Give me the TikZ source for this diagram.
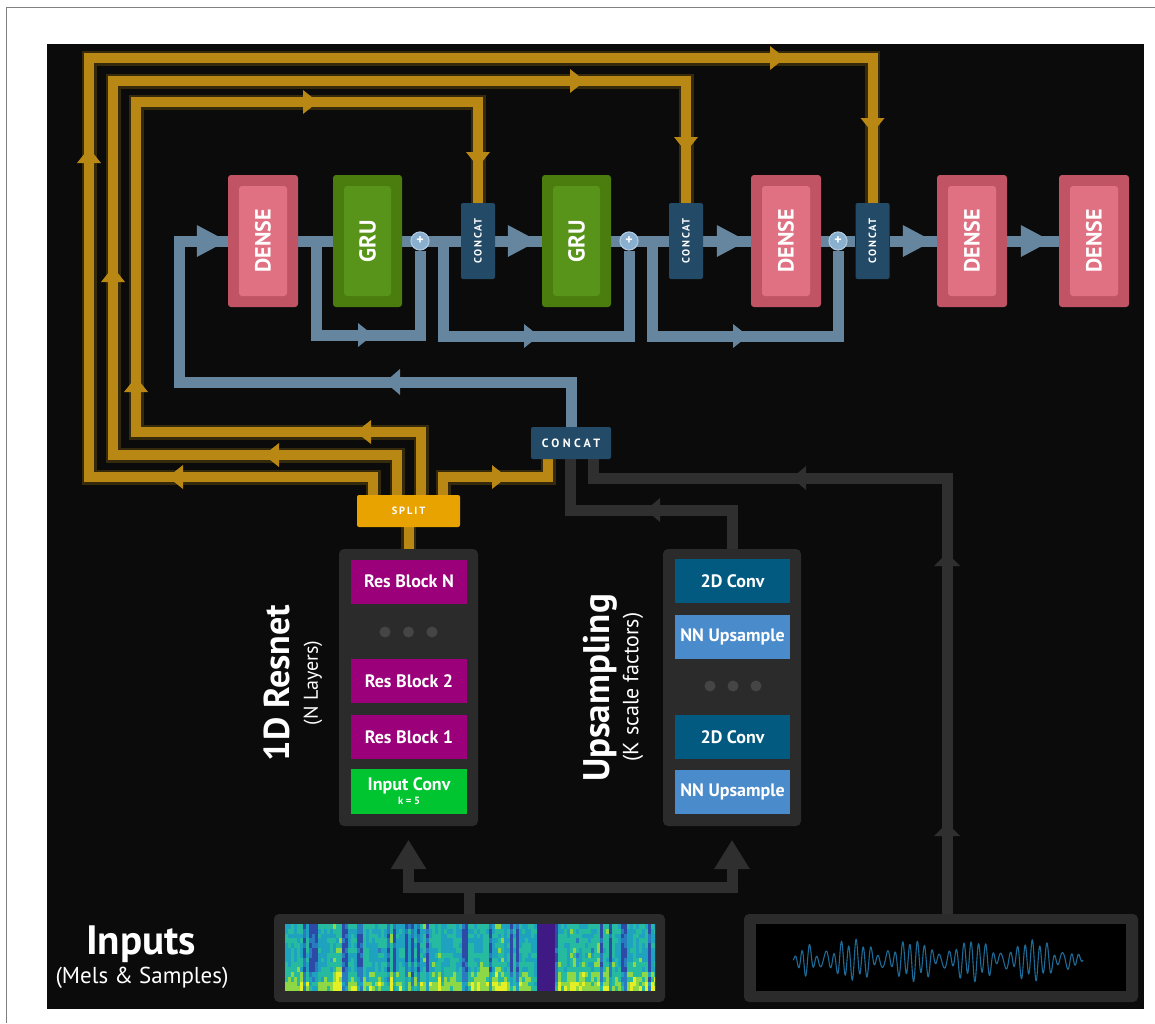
\documentclass[tikz,border=0pt]{standalone}
\usepackage{fontspec}
\usepackage{graphicx}
\setmainfont{PT Sans}
\usetikzlibrary{calc}
\newcommand{\fsz}[1]{\fontsize{#1}{#1}\selectfont}
\newcommand{\arR}[4]{\fill[#1] (#2) -- ++(-#3,-#4) -- ++(0,2*#4) -- cycle;}
\newcommand{\arL}[4]{\fill[#1] (#2) -- ++(#3,-#4) -- ++(0,2*#4) -- cycle;}
\newcommand{\arU}[4]{\fill[#1] (#2) -- ++(-#4,#3) -- ++(2*#4,0) -- cycle;}
\newcommand{\arD}[4]{\fill[#1] (#2) -- ++(-#4,-#3) -- ++(2*#4,0) -- cycle;}
\definecolor{panel}{HTML}{0B0B0B}
\definecolor{bluel}{HTML}{66869F}
\definecolor{plusc}{HTML}{8AB0D0}
\definecolor{gold}{HTML}{B98714}
\definecolor{splitc}{HTML}{E9A300}
\definecolor{concatc}{HTML}{234B68}
\definecolor{denseo}{HTML}{C05465}
\definecolor{densei}{HTML}{E07183}
\definecolor{gruo}{HTML}{4A7D0E}
\definecolor{grui}{HTML}{579419}
\definecolor{resc}{HTML}{9B007A}
\definecolor{inconv}{HTML}{00C531}
\definecolor{convc}{HTML}{035A80}
\definecolor{nnc}{HTML}{4A8BCB}
\definecolor{contc}{HTML}{2B2B2B}
\definecolor{grayl}{HTML}{2F2F2F}
\definecolor{dotc}{HTML}{454545}
\definecolor{wavec}{HTML}{1E6A96}
\definecolor{vir0}{HTML}{3F1A84}
\definecolor{vir1}{HTML}{2D4AA6}
\definecolor{vir2}{HTML}{2A7AC0}
\definecolor{vir3}{HTML}{1EA2C0}
\definecolor{vir4}{HTML}{26BBA0}
\definecolor{vir5}{HTML}{8FD845}
\definecolor{vir6}{HTML}{E4F025}
\pgfdeclarelayer{bg}
\pgfdeclarelayer{lines}
\pgfsetlayers{bg,lines,main}
\begin{document}
\begin{tikzpicture}[x=1pt,y=-1pt,
  box/.style={inner sep=0pt, text=white, align=center},
  dense/.style={box, fill=denseo, rounded corners=3pt, minimum width=70pt, minimum height=132pt,
    font=\bfseries\fsz{22},
    path picture={\fill[densei] ([shift={(11pt,11pt)}]path picture bounding box.south west) rectangle ([shift={(-11pt,-11pt)}]path picture bounding box.north east);}},
  gru/.style={box, fill=gruo, rounded corners=3pt, minimum width=69pt, minimum height=132pt,
    font=\bfseries\fsz{23},
    path picture={\fill[grui] ([shift={(11pt,11pt)}]path picture bounding box.south west) rectangle ([shift={(-11pt,-11pt)}]path picture bounding box.north east);}},
  cc/.style={box, fill=concatc, rounded corners=2pt, minimum width=34pt, minimum height=76pt,
    font=\bfseries\fsz{10.5}\addfontfeatures{LetterSpace=15}},
  plus/.style={circle, fill=plusc, draw=plusc!70!white, line width=1.2pt, minimum size=18pt, inner sep=0pt, text=white, font=\bfseries\fsz{14}},
  cbox/.style={box, fill=concatc, rounded corners=2pt, minimum width=80pt, minimum height=32pt,
    font=\bfseries\fsz{12}\addfontfeatures{LetterSpace=28}},
  splitb/.style={box, fill=splitc, rounded corners=2pt, minimum width=103pt, minimum height=32pt,
    font=\bfseries\fsz{10.5}\addfontfeatures{LetterSpace=18}},
  cont/.style={fill=contc, rounded corners=5pt, inner sep=0pt},
  layer/.style={box, minimum width=116pt, minimum height=44pt, font=\bfseries\fsz{18}},
  res/.style={layer, fill=resc},
  inc/.style={layer, fill=inconv, minimum height=45pt},
  conv/.style={layer, fill=convc, minimum width=115pt},
  nn/.style={layer, fill=nnc, minimum width=115pt},
  lbl/.style={inner sep=0pt, text=white},
  bl/.style={draw=bluel, line width=11pt, line join=miter},
  og/.style={draw=gold, line width=10pt, line join=miter, preaction={draw=gold, line width=15pt, draw opacity=0.25}},
  gl/.style={draw=grayl, line width=11pt, line join=miter},
]
\useasboundingbox (0,0) rectangle (1155,1023);
\begin{pgfonlayer}{bg}
\fill[white] (0,0) rectangle (1155,1023);
\draw[black!50, line width=1pt] (6,1023) -- (6,7) -- (1155,7);
\fill[panel] (47,44) rectangle (1144,1009);
\end{pgfonlayer}

% ---- top chain ----
\node[dense] (d1) at (263,241) {\rotatebox{90}{DENSE}};
\node[gru] (g1) at (367.5,241) {\rotatebox{90}{GRU}};
\node[plus] (p1) at (420,241) {+};
\node[cc] (c1) at (478,241) {\rotatebox{90}{CONCAT}};
\node[gru] (g2) at (576.5,241) {\rotatebox{90}{GRU}};
\node[plus] (p2) at (629,241) {+};
\node[cc] (c2) at (686,241) {\rotatebox{90}{CONCAT}};
\node[dense] (d2) at (786,241) {\rotatebox{90}{DENSE}};
\node[plus] (p3) at (838,241) {+};
\node[cc] (c3) at (872.5,241) {\rotatebox{90}{CONCAT}};
\node[dense] (d3) at (972,241) {\rotatebox{90}{DENSE}};
\node[dense] (d4) at (1094,241) {\rotatebox{90}{DENSE}};

% ---- middle ----
\node[cbox] (cb) at (571,443) {CONCAT};
\node[splitb] (sp) at (408.5,511) {SPLIT};

% ---- containers ----
\node[cont, minimum width=139pt, minimum height=277pt] (rn) at (408.5,687.5) {};
\node[cont, minimum width=138pt, minimum height=277pt] (up) at (732,687.5) {};
\node[res] (rN) at (409,581.5) {Res Block N};
\foreach \xx in {385,408.5,432} \fill[dotc] (\xx,632) circle (5.5);
\node[res] (r2) at (409,681) {Res Block 2};
\node[res] (r1) at (409,737) {Res Block 1};
\node[inc] (ic) at (409,791.5) {Input Conv\\[-4pt]{\fsz{10.5}k = 5}};
\node[conv] (cv1) at (732.5,581) {2D Conv};
\node[nn] (nn1) at (732.5,636.5) {NN Upsample};
\foreach \xx in {710,733,756} \fill[dotc] (\xx,686) circle (5.5);
\node[conv] (cv2) at (732.5,737) {2D Conv};
\node[nn] (nn2) at (732.5,792) {NN Upsample};

% ---- inputs ----
\node[cont, minimum width=391pt, minimum height=88pt] (mel) at (469.5,958) {};
\node[cont, minimum width=394pt, minimum height=88pt] (wave) at (941,958) {};
\begin{scope}
\clip (285,924) rectangle (655,991);
\pgfmathsetseed{4242}
\foreach \i in {0,...,123}{
  \pgfmathsetmacro{\cf}{rnd<0.18 ? -0.28 : 0.16*rnd-0.02}
  \pgfmathsetmacro{\cb}{0.25*rnd}
  \foreach \j in {0,...,13}{
    \pgfmathsetmacro{\v}{0.52 + \cf + 0.2*(rnd-0.5) + (\j>=12 ? 0.12+\cb : (\j>=10 ? 0.06+0.6*\cb : (\j>=8 ? 0.04 : 0)))}
    \pgfmathtruncatemacro{\k}{(\i>=84 && \i<=89) ? 0 : max(1,min(6,\v*7))}
    \fill[vir\k] ({285+3*\i},{924+4.8*\j}) rectangle ++(3.2,5);
  }
}
\end{scope}
\fill[black] (756,924) rectangle (1126,991);
\draw[wavec, line width=1.1pt, line join=round] plot[domain=0:290, samples=700]
  ({793+\x},{960 - min(1,\x/12,(290-\x)/12)*(11*sin(47*\x) + 7*sin(53*\x) + 4*sin(23*\x+40))});

% ---- labels ----
\node[lbl, font=\bfseries\fsz{36}, rotate=90] (lres) at (277,683) {1D Resnet};
\node[lbl, font=\fsz{20}, rotate=90] (lresn) at (313,683) {(N Layers)};
\node[lbl, font=\bfseries\fsz{37}, rotate=90] (lup) at (600,688) {Upsampling};
\node[lbl, font=\fsz{22}, rotate=90] (lupk) at (633,687) {(K scale factors)};
\node[lbl, font=\bfseries\fsz{41}] (lin) at (141,944) {Inputs};
\node[lbl, font=\fsz{23}] (lin2) at (142,978) {(Mels \& Samples)};

\begin{pgfonlayer}{lines}
% orange
\coordinate (A1) at (421,432); \coordinate (A2) at (136,102);
\draw[og] (A1 |- sp.north) -- (A1) -- (A1 -| A2) -- (A2) -- (A2 -| c1.north) -- (c1.north);
\coordinate (B1) at (397,455); \coordinate (B2) at (113,81);
\draw[og] (B1 |- sp.north) -- (B1) -- (B1 -| B2) -- (B2) -- (B2 -| c2.north) -- (c2.north);
\coordinate (C1) at (373,477); \coordinate (C2) at (89,58);
\draw[og] (C1 |- sp.north) -- (C1) -- (C1 -| C2) -- (C2) -- (C2 -| c3.north) -- (c3.north);
\coordinate (D1) at (443,477); \coordinate (D2) at (548,477);
\draw[og] (D1 |- sp.north) -- (D1) -- (D2) -- (D2 |- cb.south);
\draw[og] (sp.south) -- (rn.north);
\arL{gold}{356,432}{15}{12} \arU{gold}{136,377}{15}{12} \arR{gold}{318,102}{15}{12} \arD{gold}{478,167}{15}{12}
\arL{gold}{264,455}{15}{12} \arU{gold}{113,267}{15}{12} \arR{gold}{585,81}{15}{12} \arD{gold}{686,152}{15}{12}
\arL{gold}{168,477}{15}{12} \arU{gold}{89,148}{15}{12} \arR{gold}{785,58}{15}{12} \arD{gold}{872.5,133}{15}{12}
\arR{gold}{507,477}{15}{12}

% blue
\coordinate (fbL) at (179,382);
\draw[bl] (cb.north) -- (cb.north |- fbL) -- (fbL) -- (fbL |- d1.west) -- (d1.west);
\arL{bluel}{385,382}{15}{13}
\arR{bluel}{$(d1.west)+(-1,0)$}{30}{16}
\draw[bl] (d1.east) -- (g1.west);
\draw[bl] (g1.east) -- (c1.west);
\draw[bl] (c1.east) -- (g2.west);
\arR{bluel}{$(g2.west)+(-4,0)$}{30}{16}
\draw[bl] (g2.east) -- (c2.west);
\draw[bl] (c2.east) -- (d2.west);
\arR{bluel}{$(d2.west)+(-4,0)$}{30}{16}
\draw[bl] (d2.east) -- (c3.west);
\draw[bl] (c3.east) -- (d3.west);
\arR{bluel}{$(d3.west)+(-4,0)$}{30}{16}
\draw[bl] (d3.east) -- (d4.west);
\arR{bluel}{$(d4.west)+(-8,0)$}{30}{16}
\coordinate (s1) at (316,335);
\draw[bl] (s1 |- d1.east) -- (s1) -- (s1 -| p1) -- (p1);
\arR{bluel}{373,335}{15}{12}
\coordinate (s2) at (443,336);
\draw[bl] (s2 |- p1) -- (s2) -- (s2 -| p2) -- (p2);
\arR{bluel}{539,336}{15}{12}
\coordinate (s3) at (652,336);
\draw[bl] (s3 |- p2) -- (s3) -- (s3 -| p3) -- (p3);
\arR{bluel}{748,336}{15}{12}

% gray
\coordinate (G1) at (570,510);
\draw[gl] (up.north) -- (up.north |- G1) -- (G1) -- (G1 |- cb.south);
\arL{grayl}{646,510}{14}{12}
\coordinate (G2) at (593,478);
\coordinate (wt) at ($(wave.north)+(6,0)$);
\draw[gl] (wt) -- (wt |- G2) -- (G2) -- (G2 |- cb.south);
\arL{grayl}{792,478}{14}{12}
\arU{grayl}{947,553}{13}{13}
\arU{grayl}{947,823}{13}{13}
\coordinate (MJ) at (0,887);
\draw[gl] (mel.north) -- (mel.north |- MJ);
\draw[gl] ($(rn.south)+(0,43)$) -- (rn.south |- MJ) -- (up.south |- MJ) -- ($(up.south)+(0,43)$);
\arU{grayl}{$(rn.south)+(0,14)$}{29}{18}
\arU{grayl}{$(up.south)+(0,14)$}{29}{18}
\end{pgfonlayer}
\end{tikzpicture}
\end{document}
